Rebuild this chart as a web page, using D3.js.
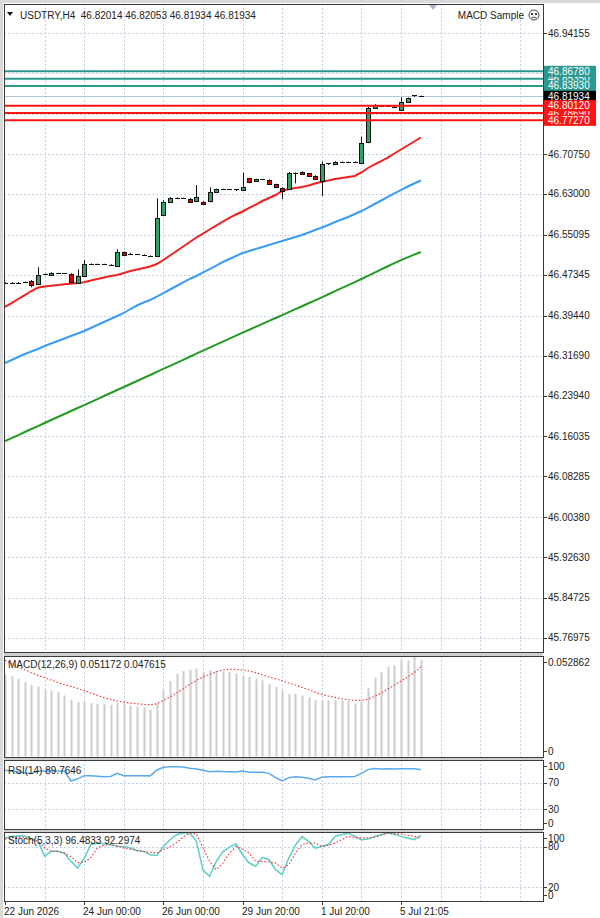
<!DOCTYPE html>
<html>
<head>
<meta charset="utf-8">
<script src="https://cdn.jsdelivr.net/npm/d3@7"></script>
<style>
  body { margin: 0; background: #fff; }
  svg { display: block; font-family: "Liberation Sans", Arial, sans-serif; font-size: 10px; }
</style>
</head>
<body>
<div id="chart"></div>
<script>
// ---- data ----
const candleOpen = [46.4578, 46.4583, 46.4580, 46.4582, 46.4620, 46.4550, 46.4740, 46.4730, 46.4765, 46.4763,
  46.4744, 46.4581, 46.4717, 46.4945, 46.4947, 46.4941, 46.4935, 46.4910, 46.5176, 46.5128,
  46.5131, 46.5124, 46.5104, 46.5098, 46.5906, 46.6151, 46.6226, 46.6220, 46.6209, 46.6170,
  46.6151, 46.6151, 46.6333, 46.6393, 46.6391, 46.6390, 46.6377, 46.6604, 46.6552, 46.6583,
  46.6571, 46.6494, 46.6422, 46.6391, 46.6701, 46.6732, 46.6701, 46.6655, 46.6552, 46.6893,
  46.6881, 46.6918, 46.6920, 46.6921, 46.6910, 46.7294, 46.7975, 46.7993, 46.8004, 46.7994,
  46.7928, 46.8089, 46.8185, 46.82014];
const candleHigh = [46.4590, 46.4592, 46.4590, 46.4600, 46.4633, 46.4879, 46.4760, 46.4785, 46.4772, 46.4770,
  46.4763, 46.4841, 46.5021, 46.4955, 46.4952, 46.4948, 46.4940, 46.5228, 46.5185, 46.5160,
  46.5138, 46.5130, 46.5110, 46.6216, 46.6178, 46.6240, 46.6235, 46.6228, 46.6220, 46.6474,
  46.6160, 46.6430, 46.6405, 46.6400, 46.6398, 46.6395, 46.6713, 46.6615, 46.6595, 46.6590,
  46.6580, 46.6500, 46.6430, 46.6726, 46.6720, 46.6740, 46.6708, 46.6662, 46.6926, 46.6900,
  46.6935, 46.6926, 46.6927, 46.6928, 46.7410, 46.7992, 46.8040, 46.8000, 46.8010, 46.8000,
  46.8174, 46.8172, 46.8220, 46.82053];
const candleLow = [46.4570, 46.4572, 46.4571, 46.4578, 46.4492, 46.4536, 46.4730, 46.4725, 46.4755, 46.4752,
  46.4569, 46.4556, 46.4710, 46.4938, 46.4935, 46.4930, 46.4915, 46.4900, 46.5105, 46.5122,
  46.5124, 46.5112, 46.5090, 46.5090, 46.5890, 46.6140, 46.6218, 46.6208, 46.6140, 46.6145,
  46.6087, 46.6140, 46.6325, 46.6385, 46.6384, 46.6358, 46.6370, 46.6510, 46.6545, 46.6578,
  46.6480, 46.6435, 46.6197, 46.6383, 46.6507, 46.6680, 46.6640, 46.6598, 46.6261, 46.6862,
  46.6875, 46.6912, 46.6913, 46.6912, 46.6895, 46.7285, 46.7968, 46.7988, 46.7998, 46.7986,
  46.7909, 46.8082, 46.8180, 46.81934];
const candleClose = [46.4583, 46.4580, 46.4582, 46.4594, 46.4550, 46.4730, 46.4746, 46.4775, 46.4763, 46.4761,
  46.4589, 46.4717, 46.4943, 46.4949, 46.4943, 46.4937, 46.4924, 46.5182, 46.5112, 46.5131,
  46.5129, 46.5118, 46.5098, 46.5841, 46.6151, 46.6228, 46.6228, 46.6216, 46.6151, 46.6248,
  46.6106, 46.6333, 46.6397, 46.6391, 46.6390, 46.6391, 46.6441, 46.6519, 46.6585, 46.6585,
  46.6488, 46.6445, 46.6364, 46.6701, 46.6713, 46.6687, 46.6649, 46.6604, 46.6875, 46.6895,
  46.6926, 46.6920, 46.6921, 46.6919, 46.7294, 46.7961, 46.8030, 46.7996, 46.8006, 46.7992,
  46.8089, 46.8166, 46.8213, 46.81934];

const maFast = [46.4110, 46.4187, 46.4265, 46.4342, 46.4420, 46.4488, 46.4507, 46.4521, 46.4536, 46.4550,
  46.4561, 46.4575, 46.4589, 46.4623, 46.4653, 46.4682, 46.4711, 46.4730, 46.4769, 46.4808,
  46.4837, 46.4866, 46.4895, 46.4943, 46.5021, 46.5108, 46.5195, 46.5282, 46.5370, 46.5457,
  46.5534, 46.5612, 46.5689, 46.5767, 46.5835, 46.5903, 46.5961, 46.6029, 46.6096, 46.6164,
  46.6222, 46.6280, 46.6358, 46.6397, 46.6416, 46.6436, 46.6465, 46.6503, 46.6538, 46.6561,
  46.6591, 46.6610, 46.6629, 46.6649, 46.6717, 46.6804, 46.6872, 46.6939, 46.7007, 46.7085,
  46.7162, 46.7240, 46.7317, 46.7395];
const maMid = [46.3025, 46.3083, 46.3141, 46.3199, 46.3247, 46.3296, 46.3354, 46.3403, 46.3451, 46.3499,
  46.3548, 46.3596, 46.3645, 46.3703, 46.3761, 46.3819, 46.3877, 46.3935, 46.3994, 46.4071,
  46.4139, 46.4197, 46.4246, 46.4313, 46.4381, 46.4449, 46.4517, 46.4585, 46.4653, 46.4711,
  46.4779, 46.4846, 46.4914, 46.4982, 46.5040, 46.5098, 46.5156, 46.5195, 46.5234, 46.5273,
  46.5311, 46.5350, 46.5389, 46.5428, 46.5467, 46.5505, 46.5554, 46.5602, 46.5651, 46.5699,
  46.5757, 46.5806, 46.5854, 46.5912, 46.5970, 46.6038, 46.6106, 46.6174, 46.6242, 46.6310,
  46.6377, 46.6445, 46.6503, 46.6561];
const maSlow = [46.1513, 46.1570, 46.1628, 46.1687, 46.1745, 46.1803, 46.1862, 46.1920, 46.1978, 46.2036,
  46.2094, 46.2152, 46.2210, 46.2268, 46.2326, 46.2385, 46.2443, 46.2501, 46.2559, 46.2618,
  46.2676, 46.2734, 46.2792, 46.2851, 46.2910, 46.2969, 46.3028, 46.3087, 46.3146, 46.3205,
  46.3264, 46.3322, 46.3380, 46.3438, 46.3496, 46.3554, 46.3612, 46.3669, 46.3726, 46.3783,
  46.3840, 46.3897, 46.3954, 46.4011, 46.4068, 46.4125, 46.4182, 46.4240, 46.4298, 46.4357,
  46.4416, 46.4475, 46.4534, 46.4593, 46.4653, 46.4715, 46.4777, 46.4839, 46.4900, 46.4960,
  46.5019, 46.5072, 46.5124, 46.5176];

const macdHist = [0.04350, 0.04257, 0.04133, 0.03956, 0.03814, 0.03725, 0.03548, 0.03512, 0.03424, 0.03246,
  0.03016, 0.02891, 0.02891, 0.02838, 0.02803, 0.02803, 0.02749, 0.02838, 0.02838, 0.02714,
  0.02661, 0.02625, 0.02483, 0.02838, 0.03512, 0.04009, 0.04399, 0.04541, 0.04612, 0.04665,
  0.04488, 0.04577, 0.04541, 0.04488, 0.04488, 0.04399, 0.04310, 0.04222, 0.04133, 0.04045,
  0.03867, 0.03690, 0.03512, 0.03335, 0.03335, 0.03246, 0.03157, 0.02981, 0.02981, 0.02981,
  0.02981, 0.02981, 0.02945, 0.02803, 0.02891, 0.03654, 0.04186, 0.04488, 0.04754, 0.04843,
  0.05150, 0.05100, 0.05286, 0.051172];
const macdSignal = [0.05109, 0.04931, 0.04754, 0.04612, 0.04452, 0.04311, 0.04186, 0.04062, 0.03938, 0.03814,
  0.03725, 0.03619, 0.03495, 0.03370, 0.03246, 0.03122, 0.03033, 0.02945, 0.02891, 0.02838,
  0.02803, 0.02767, 0.02750, 0.02803, 0.02980, 0.03158, 0.03370, 0.03601, 0.03832, 0.04045,
  0.04222, 0.04364, 0.04506, 0.04594, 0.04630, 0.04630, 0.04594, 0.04541, 0.04452, 0.04346,
  0.04222, 0.04133, 0.04009, 0.03903, 0.03796, 0.03672, 0.03548, 0.03406, 0.03299, 0.03211,
  0.03140, 0.03069, 0.03016, 0.02980, 0.02980, 0.03051, 0.03193, 0.03370, 0.03583, 0.03796,
  0.04009, 0.04222, 0.04452, 0.047615];

const rsiValues = [89.0, 88.0, 86.8, 85.0, 84.0, 87.9, 88.0, 88.0, 88.0, 87.9,
  72.7, 76.0, 80.8, 80.5, 80.0, 79.3, 79.5, 84.3, 80.8, 80.8,
  80.8, 80.8, 80.5, 89.4, 93.5, 94.4, 94.4, 94.0, 92.0, 90.9,
  89.0, 86.8, 87.5, 87.0, 86.8, 86.5, 87.9, 86.0, 86.0, 86.0,
  84.3, 78.0, 72.7, 77.8, 79.3, 78.5, 77.0, 74.2, 78.5, 79.3,
  79.3, 79.3, 79.3, 79.5, 84.3, 90.0, 91.5, 91.0, 91.2, 91.0,
  91.3, 91.3, 91.4, 89.7646];

const stochMain = [92.5, 94.9, 96.0, 95.5, 91.5, 88.0, 65.4, 72.8, 72.8, 70.0,
  58.0, 48.1, 62.9, 82.6, 85.1, 84.0, 82.6, 80.5, 80.1, 77.7,
  74.0, 72.8, 67.8, 66.8, 80.1, 90.0, 97.5, 100, 100, 88.0,
  45.0, 35.8, 58.0, 72.0, 79.0, 83.6, 67.8, 55.5, 50.6, 63.9,
  60.4, 45.7, 38.3, 62.9, 82.0, 94.9, 87.5, 77.7, 80.1, 83.0,
  94.9, 97.5, 99.9, 95.0, 90.0, 91.0, 94.9, 97.5, 100, 98.0,
  95.0, 92.5, 90.0, 96.4833];
const stochSignal = [91.0, 93.0, 94.0, 93.0, 90.0, 87.5, 78.0, 72.8, 72.8, 70.3,
  65.0, 56.0, 56.5, 63.5, 78.0, 82.0, 82.6, 80.5, 78.0, 76.0,
  74.0, 72.8, 71.5, 70.3, 75.0, 79.5, 86.0, 94.0, 99.9, 98.4,
  78.0, 58.0, 45.7, 55.0, 70.0, 80.1, 76.0, 70.3, 58.0, 58.0,
  57.0, 55.5, 48.1, 53.0, 70.0, 83.0, 85.1, 85.1, 80.1, 82.0,
  85.1, 90.0, 94.9, 93.5, 92.5, 93.0, 93.4, 97.0, 99.9, 99.0,
  98.4, 96.5, 94.9, 92.2974];

// grid levels; the two near the level boxes have their labels covered in the reference
const priceGrid = [46.94155, 46.86405, 46.78500, 46.70750, 46.63000, 46.55095, 46.47345, 46.39440,
  46.31690, 46.23940, 46.16035, 46.08285, 46.00380, 45.92630, 45.84725, 45.76975];
const priceLabels = [46.94155, 46.70750, 46.63000, 46.55095, 46.47345, 46.39440,
  46.31690, 46.23940, 46.16035, 46.08285, 46.00380, 45.92630, 45.84725, 45.76975];
const tealLevels = [46.85350, 46.86780, 46.83930];
const redLevels = [46.78690, 46.80120, 46.77270];
const lastPrice = 46.81934;
const macdTicks = [0.052862, 0];
const rsiTicks = [100, 70, 30, 0];
const rsiLevels = [70, 30];
const stochTicks = [100, 80, 20, 0];
const stochLevels = [80, 20];
const timeLabelIndex = [0, 12, 24, 36, 48, 60];
const timeLabelText = ['22 Jun 2026', '24 Jun 00:00', '26 Jun 00:00', '29 Jun 20:00', '1 Jul 20:00', '5 Jul 21:05'];

// ---- layout ----
const W = 600, H = 918;
const left = 4, right = 543;
const panes = {
  main: { top: 4, bottom: 652 },
  macd: { top: 656, bottom: 757 },
  rsi: { top: 760, bottom: 829 },
  stoch: { top: 832, bottom: 901 }
};
const gridColor = '#c3d0e4';
const fmt5 = d3.format('.5f');

const x = d3.scaleLinear().domain([0, 80]).range([5, 533]);
const yMain = d3.scaleLinear().domain([45.7424, 46.9982]).range([652, 4]);
const yMacd = d3.scaleLinear().domain([0, 0.052862]).range([756.5, 657]);
const yRsi = d3.scaleLinear().domain([0, 100]).range([829, 763]);
const yStoch = d3.scaleLinear().domain([0, 100]).range([900.5, 833]);
const px = (i) => Math.round(x(i));
const N = candleOpen.length;
const idx = d3.range(N);

const svg = d3.select('#chart').append('svg')
  .attr('width', W).attr('height', H);

svg.append('rect').attr('width', W).attr('height', H).attr('fill', '#fff');
// window frame
svg.append('rect').attr('width', W).attr('height', 3).attr('fill', '#d9d9d9');
svg.append('rect').attr('width', 3).attr('height', H).attr('fill', '#d9d9d9');

// pane gaps
Object.values(panes).forEach((p, k, arr) => {
  if (k < arr.length - 1) {
    svg.append('rect')
      .attr('x', left).attr('y', p.bottom)
      .attr('width', right - left).attr('height', arr[k + 1].top - p.bottom)
      .attr('fill', '#cfcfcf');
  }
});

const defs = svg.append('defs');
Object.entries(panes).forEach(([k, p]) => {
  defs.append('clipPath').attr('id', `clip-${k}`)
    .append('rect')
    .attr('x', left + 1).attr('y', p.top + 1)
    .attr('width', right - left - 1).attr('height', p.bottom - p.top - 1);
});

// vertical grid in every pane
const gridIdx = d3.range(6, 80, 6);
Object.values(panes).forEach((p) => {
  svg.append('g')
    .selectAll('line')
    .data(gridIdx)
    .join('line')
    .attr('x1', (i) => px(i) + 0.5)
    .attr('x2', (i) => px(i) + 0.5)
    .attr('y1', p.top)
    .attr('y2', p.bottom)
    .attr('stroke', gridColor)
    .attr('stroke-dasharray', '2,2');
});

function hGrid(values, scale) {
  svg.append('g')
    .selectAll('line')
    .data(values)
    .join('line')
    .attr('x1', left).attr('x2', right)
    .attr('y1', (v) => Math.round(scale(v)) + 0.5)
    .attr('y2', (v) => Math.round(scale(v)) + 0.5)
    .attr('stroke', gridColor)
    .attr('stroke-dasharray', '2,2');
}
hGrid(priceGrid, yMain);
hGrid(rsiLevels, yRsi);
hGrid(stochLevels, yStoch);

// ---- main pane ----
const main = svg.append('g').attr('clip-path', 'url(#clip-main)');

main.append('line')
  .attr('x1', left).attr('x2', right)
  .attr('y1', Math.round(yMain(lastPrice)) + 0.5)
  .attr('y2', Math.round(yMain(lastPrice)) + 0.5)
  .attr('stroke', '#b4c6dc');

const maLine = d3.line().x((d) => x(d[0])).y((d) => yMain(d[1]));
[[maSlow, '#239b23'], [maMid, '#3b9cf2'], [maFast, '#f22020']].forEach(([vals, col]) => {
  main.append('path')
    .datum(vals.map((v, i) => [i, v]))
    .attr('fill', 'none')
    .attr('stroke', col)
    .attr('stroke-width', 2)
    .attr('d', maLine);
});

const candles = idx.map((i) => ({
  i, o: candleOpen[i], h: candleHigh[i], l: candleLow[i], c: candleClose[i]
}));
const cg = main.append('g');
cg.selectAll('line.wick')
  .data(candles)
  .join('line')
  .attr('class', 'wick')
  .attr('x1', (d) => px(d.i) + 0.5)
  .attr('x2', (d) => px(d.i) + 0.5)
  .attr('y1', (d) => yMain(d.h))
  .attr('y2', (d) => yMain(d.l))
  .attr('stroke', '#111');
cg.selectAll('rect.body')
  .data(candles.filter((d) => Math.abs(yMain(d.o) - yMain(d.c)) >= 1.5))
  .join('rect')
  .attr('class', 'body')
  .attr('x', (d) => px(d.i) - 1.5)
  .attr('width', 4)
  .attr('y', (d) => Math.round(yMain(Math.max(d.o, d.c))) + 0.5)
  .attr('height', (d) => Math.max(1, Math.round(Math.abs(yMain(d.o) - yMain(d.c)))))
  .attr('fill', (d) => (d.c >= d.o ? '#34a066' : '#dd0000'))
  .attr('stroke', '#111');
cg.selectAll('line.doji')
  .data(candles.filter((d) => Math.abs(yMain(d.o) - yMain(d.c)) < 1.5))
  .join('line')
  .attr('class', 'doji')
  .attr('x1', (d) => px(d.i) - 2)
  .attr('x2', (d) => px(d.i) + 3)
  .attr('y1', (d) => Math.round(yMain(d.c)) + 0.5)
  .attr('y2', (d) => Math.round(yMain(d.c)) + 0.5)
  .attr('stroke', '#111');

const levels = [
  ...tealLevels.map((v) => ({ v, col: '#2b9990' })),
  ...redLevels.map((v) => ({ v, col: '#ff1414' }))
];
main.append('g')
  .selectAll('line')
  .data(levels)
  .join('line')
  .attr('x1', left).attr('x2', right)
  .attr('y1', (d) => yMain(d.v))
  .attr('y2', (d) => yMain(d.v))
  .attr('stroke', (d) => d.col)
  .attr('stroke-width', 2);

// ---- MACD pane ----
const macdG = svg.append('g').attr('clip-path', 'url(#clip-macd)');
macdG.selectAll('rect')
  .data(idx)
  .join('rect')
  .attr('x', (i) => px(i) - 0.5)
  .attr('width', 2)
  .attr('y', (i) => yMacd(macdHist[i]))
  .attr('height', (i) => yMacd(0) - yMacd(macdHist[i]))
  .attr('fill', '#cdcdcd');
macdG.append('path')
  .datum(idx)
  .attr('fill', 'none')
  .attr('stroke', '#f03c3c')
  .attr('stroke-width', 1.2)
  .attr('stroke-dasharray', '1.5,2')
  .attr('d', d3.line().x((i) => x(i)).y((i) => yMacd(macdSignal[i])));

// ---- RSI pane ----
svg.append('g').attr('clip-path', 'url(#clip-rsi)')
  .append('path')
  .datum(idx)
  .attr('fill', 'none')
  .attr('stroke', '#5aaaf0')
  .attr('stroke-width', 1.5)
  .attr('d', d3.line().x((i) => x(i)).y((i) => yRsi(rsiValues[i])));

// ---- Stochastic pane ----
const stG = svg.append('g').attr('clip-path', 'url(#clip-stoch)');
stG.append('path')
  .datum(idx)
  .attr('fill', 'none')
  .attr('stroke', '#5ccfc6')
  .attr('stroke-width', 1.5)
  .attr('d', d3.line().x((i) => x(i)).y((i) => yStoch(stochMain[i])));
stG.append('path')
  .datum(idx)
  .attr('fill', 'none')
  .attr('stroke', '#f03c3c')
  .attr('stroke-width', 1.2)
  .attr('stroke-dasharray', '1.5,2')
  .attr('d', d3.line().x((i) => x(i)).y((i) => yStoch(stochSignal[i])));

// pane borders
Object.values(panes).forEach((p) => {
  svg.append('rect')
    .attr('x', left + 0.5).attr('y', p.top + 0.5)
    .attr('width', right - left).attr('height', p.bottom - p.top)
    .attr('fill', 'none')
    .attr('stroke', '#3a3a3a');
});

// ---- right axis labels ----
function axisLabels(values, scale, pane, fmt) {
  const g = svg.append('g');
  const yOf = (v) => Math.max(pane.top + 6, Math.min(pane.bottom - 6, scale(v)));
  g.selectAll('line')
    .data(values)
    .join('line')
    .attr('x1', right).attr('x2', right + 4)
    .attr('y1', (v) => Math.round(yOf(v)) + 0.5)
    .attr('y2', (v) => Math.round(yOf(v)) + 0.5)
    .attr('stroke', '#3a3a3a');
  g.selectAll('text')
    .data(values)
    .join('text')
    .attr('x', right + 5)
    .attr('y', (v) => yOf(v) + 3.5)
    .attr('fill', '#222')
    .text(fmt);
}
axisLabels(priceLabels, yMain, panes.main, fmt5);
axisLabels(macdTicks, yMacd, panes.macd, (v) => (v === 0 ? '0' : d3.format('.6f')(v)));
axisLabels(rsiTicks, yRsi, panes.rsi, String);
axisLabels(stochTicks, yStoch, panes.stoch, String);

// level price boxes
const boxes = [
  ...tealLevels.map((v) => ({ v, bg: '#2b9990' })),
  { v: lastPrice, bg: '#000' },
  ...redLevels.map((v) => ({ v, bg: '#ff1414' }))
];
const bx = svg.append('g').selectAll('g').data(boxes).join('g');
bx.append('rect')
  .attr('x', right + 1)
  .attr('y', (d) => yMain(d.v) - 5.5)
  .attr('width', 52)
  .attr('height', 11)
  .attr('fill', (d) => d.bg);
bx.append('text')
  .attr('x', right + 5)
  .attr('y', (d) => yMain(d.v) + 3.5)
  .attr('fill', '#fff')
  .text((d) => fmt5(d.v));

// ---- time axis ----
const tg = svg.append('g');
tg.selectAll('line')
  .data(timeLabelIndex)
  .join('line')
  .attr('x1', (i) => px(i) + 0.5)
  .attr('x2', (i) => px(i) + 0.5)
  .attr('y1', panes.stoch.bottom)
  .attr('y2', panes.stoch.bottom + 4)
  .attr('stroke', '#3a3a3a');
tg.selectAll('text')
  .data(timeLabelIndex)
  .join('text')
  .attr('x', (i) => px(i) - 1)
  .attr('y', 915)
  .attr('fill', '#222')
  .text((i, k) => timeLabelText[k]);

// ---- captions ----
svg.append('path').attr('d', 'M7,12 L13,12 L10,16 Z').attr('fill', '#111');
svg.append('text').attr('x', 20).attr('y', 18.5).attr('fill', '#222')
  .attr('xml:space', 'preserve')
  .text(`USDTRY,H4  ${fmt5(candleOpen[N - 1])} ${fmt5(candleHigh[N - 1])} ${fmt5(candleLow[N - 1])} ${fmt5(candleClose[N - 1])}`);
svg.append('text').attr('x', 524).attr('y', 18.5).attr('text-anchor', 'end')
  .attr('fill', '#222').text('MACD Sample');
const face = svg.append('g').attr('transform', 'translate(534,15)').attr('stroke', '#444').attr('fill', 'none');
face.append('circle').attr('r', 5);
face.append('path').attr('d', 'M-3,-2 L-1,0 M-1,-2 L-3,0 M1,-2 L3,0 M3,-2 L1,0 M-2.5,3 Q0,1 2.5,3');
svg.append('path').attr('d', 'M429,5 L437,5 L433,10 Z').attr('fill', '#a9b8cc');

svg.append('text').attr('x', 8).attr('y', 668).attr('fill', '#222')
  .text(`MACD(12,26,9) ${macdHist[N - 1].toFixed(6)} ${macdSignal[N - 1].toFixed(6)}`);
svg.append('text').attr('x', 8).attr('y', 773.5).attr('fill', '#222')
  .text(`RSI(14) ${rsiValues[N - 1].toFixed(4)}`);
svg.append('text').attr('x', 8).attr('y', 843.5).attr('fill', '#222')
  .text(`Stoch(5,3,3) ${stochMain[N - 1].toFixed(4)} ${stochSignal[N - 1].toFixed(4)}`);
</script>
</body>
</html>
